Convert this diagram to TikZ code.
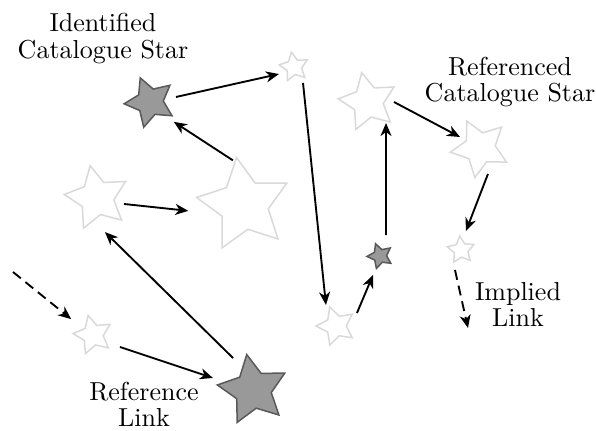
\documentclass[tikz,border=0pt]{standalone}
\usetikzlibrary{shapes.geometric,arrows.meta,calc}

\tikzset{
  basestar/.style={star, star points=5, star point ratio=1.95,
    inner sep=0pt, line width=0.6pt, line join=miter},
  faintstar/.style={basestar, draw=black!15, fill=white, minimum size=#1*0.8pt},
  markedstar/.style={basestar, draw=black!65, fill=black!40, minimum size=#1*0.8pt},
  link/.style={line width=0.75pt, -{Stealth[length=5.2pt,width=4.4pt,inset=1.6pt]}},
  implied/.style={link, dash pattern=on 4pt off 2.4pt},
  caption/.style={align=center, inner sep=0pt,
    font=\fontsize{10.4}{10.6}\selectfont}
}

\begin{document}
\begin{tikzpicture}[x=0.4pt, y=-0.4pt]
  \useasboundingbox (0,0) rectangle (596,431);

  % stars of the chain
  \node[markedstar=26, rotate=22] (s1)  at (150,102) {};
  \node[faintstar=15,  rotate=10] (s2)  at (294,67)  {};
  \node[faintstar=33,  rotate=12] (s3)  at (97,198)  {};
  \node[faintstar=48,  rotate=9]  (s4)  at (244,205) {};
  \node[faintstar=20,  rotate=14] (s5)  at (93,335)  {};
  \node[markedstar=36, rotate=10] (s6)  at (253,390) {};
  \node[faintstar=20,  rotate=18] (s7)  at (336,326) {};
  \node[markedstar=13, rotate=20] (s8)  at (380,256) {};
  \node[faintstar=30,  rotate=12] (s9)  at (368,102) {};
  \node[faintstar=30,  rotate=26] (s10) at (480,148) {};
  \node[faintstar=14,  rotate=5]  (s11) at (461,250) {};

  % loose ends of the implied links
  \coordinate (in)  at (13,272);
  \coordinate (out) at (468,328);

  % links between the stars
  \draw[implied] (in) -- ($(s5)+(216:27)$);
  \draw[link] ($(s5)+(24:29.5)$)    -- ($(s6)+(196.7:41.8)$);
  \draw[link] ($(s6)+(238:37.7)$)   -- ($(s3)+(76.8:35)$);
  \draw[link] ($(s3)+(12.5:27.7)$)  -- ($(s4)+(174:56)$);
  \draw[link] ($(s4)+(256:46)$)     -- ($(s1)+(39.8:31)$);
  \draw[link] ($(s1)+(-10.9:26.5)$) -- ($(s2)+(155:16.6)$);
  \draw[link] ($(s2)+(60.6:18.4)$)  -- ($(s7)+(244.5:23.3)$);
  \draw[link] ($(s7)+(-31.8:24.7)$) -- ($(s8)+(110.2:20.2)$);
  \draw[link] ($(s8)+(-74:21.8)$)   -- ($(s9)+(49.4:27.7)$);
  \draw[link] ($(s9)+(0:26)$)       -- ($(s10)+(208.8:22.8)$);
  \draw[link] ($(s10)+(73:27.2)$)   -- ($(s11)+(-75.3:19.6)$);
  \draw[implied] ($(s11)+(106.7:20.9)$) -- (out);

  % captions
  \node[caption] (t1) at (103,38.5) {Identified\\Catalogue Star};
  \node[caption] (t2) at (510,82)   {Referenced\\Catalogue Star};
  \node[caption] (t3) at (518,304.5) {Implied\\Link};
  \node[caption] (t4) at (144,404.5) {Reference\\Link};
\end{tikzpicture}
\end{document}
